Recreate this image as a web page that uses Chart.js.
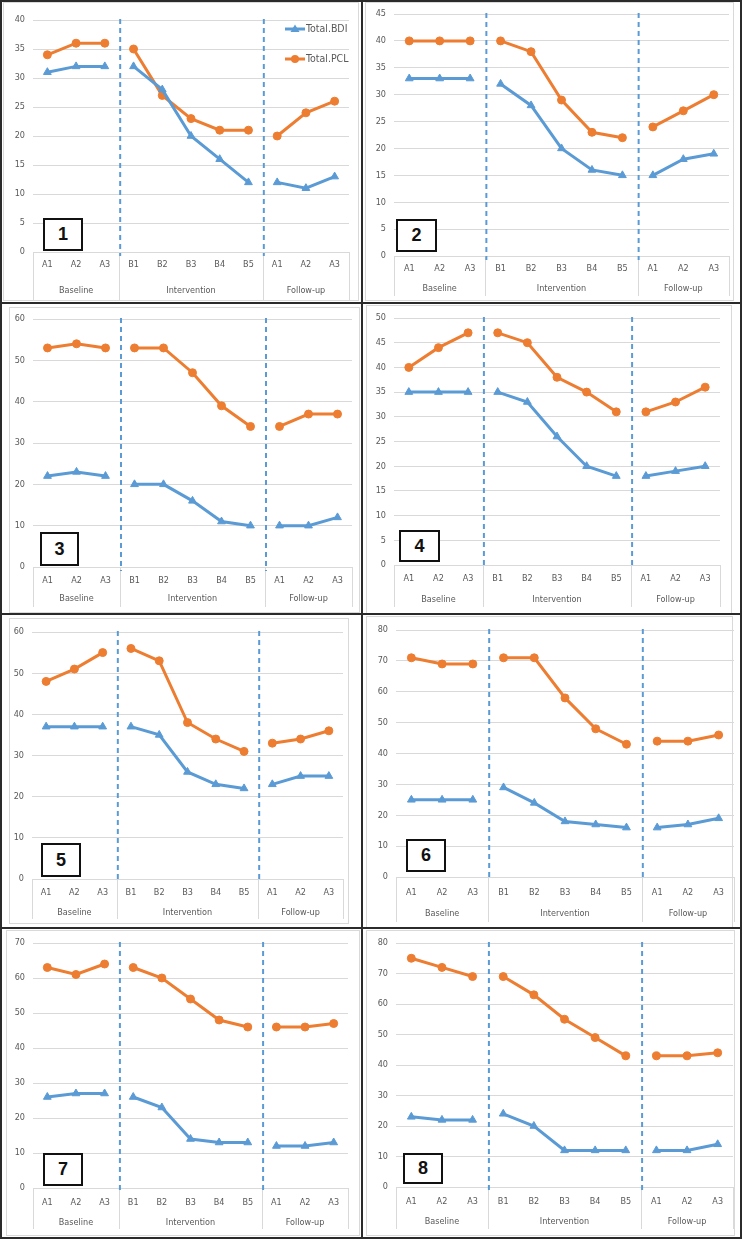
<!DOCTYPE html>
<html><head><meta charset="utf-8">
<script src="https://cdn.jsdelivr.net/npm/chart.js@4.4.1/dist/chart.umd.min.js"></script>
<style>
html,body{margin:0;padding:0;background:#fff;}
#page{position:relative;width:742px;height:1239px;overflow:hidden;background:#fff;}
canvas{position:absolute;}
.ln{position:absolute;background:#2b2b2b;z-index:5;}
.fr{position:absolute;border:1px solid #d9d9d9;box-sizing:border-box;z-index:1;pointer-events:none;}
.bx{position:absolute;border:2px solid #111;background:#fff;box-sizing:border-box;z-index:6;
 font-family:"Liberation Sans",Arial,sans-serif;font-weight:bold;font-size:18px;color:#111;
 display:flex;align-items:center;justify-content:center;}
</style></head>
<body><div id="page"></div>
<script>
// ---- data ----
const categories = ['A1','A2','A3','B1','B2','B3','B4','B5','A1','A2','A3'];
const phases = ['Baseline','Intervention','Follow-up'];
const phaseSizes = [3,5,3];
const seriesNames = ['Total.BDI','Total.PCL'];
const bdi1 = [31,32,32,32,28,20,16,12,12,11,13];
const pcl1 = [34,36,36,35,27,23,21,21,20,24,26];
const bdi2 = [33,33,33,32,28,20,16,15,15,18,19];
const pcl2 = [40,40,40,40,38,29,23,22,24,27,30];
const bdi3 = [22,23,22,20,20,16,11,10,10,10,12];
const pcl3 = [53,54,53,53,53,47,39,34,34,37,37];
const bdi4 = [35,35,35,35,33,26,20,18,18,19,20];
const pcl4 = [40,44,47,47,45,38,35,31,31,33,36];
const bdi5 = [37,37,37,37,35,26,23,22,23,25,25];
const pcl5 = [48,51,55,56,53,38,34,31,33,34,36];
const bdi6 = [25,25,25,29,24,18,17,16,16,17,19];
const pcl6 = [71,69,69,71,71,58,48,43,44,44,46];
const bdi7 = [26,27,27,26,23,14,13,13,12,12,13];
const pcl7 = [63,61,64,63,60,54,48,46,46,46,47];
const bdi8 = [23,22,22,24,20,12,12,12,12,12,14];
const pcl8 = [75,72,69,69,63,55,49,43,43,43,44];
const yMaxes = [40,45,60,50,60,80,70,80];
const ySteps = [5,5,10,5,10,10,10,10];
const panelNumbers = ['1','2','3','4','5','6','7','8'];

const bdiAll = [bdi1,bdi2,bdi3,bdi4,bdi5,bdi6,bdi7,bdi8];
const pclAll = [pcl1,pcl2,pcl3,pcl4,pcl5,pcl6,pcl7,pcl8];

// ---- layout (positions only) ----
const layout = [
 {x0:0,  y0:0,   w:362,h:303,L:33, R:349,T:20, B:252, lab:13,grp:39,sep:48, box:[43,218,40,33], fr:[3,2,356,299]},
 {x0:362,y0:0,   w:380,h:303,L:394,R:729,T:14, B:256, lab:13,grp:33,sep:40, box:[396,219,41,33], fr:[365,2,369,299]},
 {x0:0,  y0:303, w:362,h:311,L:33, R:352,T:319,B:567, lab:14,grp:32,sep:40, box:[40,532,39,34], fr:[9,307,351,306]},
 {x0:362,y0:303, w:380,h:311,L:394,R:720,T:318,B:565, lab:14,grp:35,sep:42, box:[399,530,41,32], fr:[366,305,366,309]},
 {x0:0,  y0:614, w:362,h:314,L:32, R:343,T:632,B:879, lab:14,grp:34,sep:40, box:[41,843,40,34], fr:[9,618,340,306]},
 {x0:362,y0:614, w:380,h:314,L:396,R:734,T:630,B:877, lab:16,grp:37,sep:45, box:[406,839,40,33], fr:[366,616,367,312]},
 {x0:0,  y0:928, w:362,h:311,L:33, R:348,T:943,B:1188,lab:15,grp:35,sep:41, box:[43,1153,40,33], fr:[6,930,354,306]},
 {x0:362,y0:928, w:380,h:311,L:396,R:733,T:943,B:1187,lab:15,grp:35,sep:42, box:[403,1153,40,31], fr:[366,930,369,306]}
];

const BLUE = '#5B9BD5', ORANGE = '#ED7D31', GRID = '#D9D9D9', TXT = '#595959';
const FONT = '"Liberation Sans Narrow","DejaVu Sans Condensed","Liberation Sans",Arial,sans-serif';
Chart.defaults.font.family = FONT;
Chart.defaults.color = TXT;

const page = document.getElementById('page');
function div(cls, x, y, w, h, txt){
  const d = document.createElement('div'); d.className = cls;
  d.style.left = x+'px'; d.style.top = y+'px'; d.style.width = w+'px'; d.style.height = h+'px';
  if (txt) d.textContent = txt;
  page.appendChild(d); return d;
}

// phase boundary indices
const breaks = []; { let s = 0; phaseSizes.forEach((n,i)=>{ s += n; if (i < phaseSizes.length-1) breaks.push(s-1); }); }

const decoPlugin = {
  id: 'deco',
  afterDatasetsDraw(chart, args, opts) {
    const {ctx, chartArea:ca} = chart;
    const xs = chart.scales.x;
    const lay = opts.lay;
    const bounds = [ca.left];
    breaks.forEach(b => bounds.push((xs.getPixelForValue(b) + xs.getPixelForValue(b+1))/2));
    bounds.push(ca.right);
    ctx.save();
    // group separators
    ctx.strokeStyle = GRID; ctx.lineWidth = 1;
    bounds.forEach(bx => { const x = Math.round(bx)+0.5; ctx.beginPath(); ctx.moveTo(x, ca.bottom); ctx.lineTo(x, ca.bottom + lay.sep); ctx.stroke(); });
    // group labels
    ctx.fillStyle = TXT; ctx.font = '9px ' + FONT; ctx.textAlign = 'center'; ctx.textBaseline = 'middle';
    phases.forEach((p,i) => ctx.fillText(p, (bounds[i]+bounds[i+1])/2, ca.bottom + lay.grp));
    // dashed phase-change lines
    ctx.strokeStyle = BLUE; ctx.lineWidth = 2; ctx.setLineDash([5,4]);
    bounds.slice(1,-1).forEach(bx => { ctx.beginPath(); ctx.moveTo(bx+1, ca.top - 1); ctx.lineTo(bx+1, ca.bottom + 4); ctx.stroke(); });
    ctx.setLineDash([]);
    // legend (panel 1 only)
    if (opts.legend) {
      const items = [[seriesNames[0], BLUE, 'triangle'], [seriesNames[1], ORANGE, 'circle']];
      const lx = ca.right - 64, ly = [ca.top + 9, ca.top + 39];
      items.forEach((it, i) => {
        const y = ly[i];
        ctx.strokeStyle = it[1]; ctx.lineWidth = 3;
        ctx.beginPath(); ctx.moveTo(lx, y); ctx.lineTo(lx + 20, y); ctx.stroke();
        ctx.fillStyle = it[1];
        if (it[2] === 'circle') { ctx.beginPath(); ctx.arc(lx + 10, y, 4, 0, Math.PI*2); ctx.fill(); }
        else { ctx.beginPath(); ctx.moveTo(lx+10, y-4.5); ctx.lineTo(lx+14.5, y+3); ctx.lineTo(lx+5.5, y+3); ctx.closePath(); ctx.fill(); }
        ctx.fillStyle = TXT; ctx.font = '10.5px ' + FONT; ctx.textAlign = 'left'; ctx.textBaseline = 'middle';
        ctx.fillText(it[0], lx + 21, y);
      });
    }
    ctx.restore();
  }
};

function seg(color){ return { borderColor: c => breaks.includes(c.p0DataIndex) ? 'rgba(0,0,0,0)' : color }; }

layout.forEach((lay, i) => {
  div('fr', lay.fr[0], lay.fr[1], lay.fr[2], lay.fr[3]);
  const cv = document.createElement('canvas');
  cv.width = lay.w; cv.height = lay.h;
  cv.style.left = lay.x0 + 'px'; cv.style.top = lay.y0 + 'px';
  cv.style.width = lay.w + 'px'; cv.style.height = lay.h + 'px';
  cv.style.zIndex = 2;
  page.appendChild(cv);
  new Chart(cv.getContext('2d'), {
    type: 'line',
    data: {
      labels: categories,
      datasets: [
        { label: seriesNames[0], data: bdiAll[i], borderColor: BLUE, backgroundColor: BLUE, borderWidth: 3,
          pointStyle: 'triangle', pointRadius: 4.5, pointBorderWidth: 1, pointBackgroundColor: BLUE, pointBorderColor: BLUE,
          tension: 0, segment: seg(BLUE) },
        { label: seriesNames[1], data: pclAll[i], borderColor: ORANGE, backgroundColor: ORANGE, borderWidth: 3,
          pointStyle: 'circle', pointRadius: 4, pointBorderWidth: 1, pointBackgroundColor: ORANGE, pointBorderColor: ORANGE,
          tension: 0, segment: seg(ORANGE) }
      ]
    },
    options: {
      responsive: false, animation: false, devicePixelRatio: 1,
      layout: { padding: { left: 0, top: lay.T - lay.y0, right: lay.x0 + lay.w - lay.R, bottom: 0 } },
      plugins: { legend: { display: false }, tooltip: { enabled: false }, deco: { lay: lay, legend: i === 0 } },
      scales: {
        x: {
          type: 'category', offset: true,
          grid: { display: false, drawTicks: false },
          border: { display: false },
          ticks: { color: TXT, font: { size: 9 }, padding: lay.lab - 6, maxRotation: 0, autoSkip: false },
          afterFit: s => { s.height = lay.y0 + lay.h - lay.B; }
        },
        y: {
          min: 0, max: yMaxes[i],
          grid: { color: GRID, lineWidth: 1, drawTicks: false },
          border: { display: false },
          ticks: { stepSize: ySteps[i], color: TXT, font: { size: 9 }, padding: 8 },
          afterFit: s => { s.width = lay.L - lay.x0; }
        }
      }
    },
    plugins: [decoPlugin]
  });
  div('bx', lay.box[0], lay.box[1], lay.box[2], lay.box[3], panelNumbers[i]);
});

// black cell borders
div('ln', 0, 0, 742, 2); div('ln', 0, 1237, 742, 2);
div('ln', 0, 0, 2, 1239); div('ln', 740, 0, 2, 1239);
div('ln', 361, 0, 2, 1239);
div('ln', 0, 302, 742, 2); div('ln', 0, 613, 742, 2); div('ln', 0, 927, 742, 2);
</script>
</body></html>
